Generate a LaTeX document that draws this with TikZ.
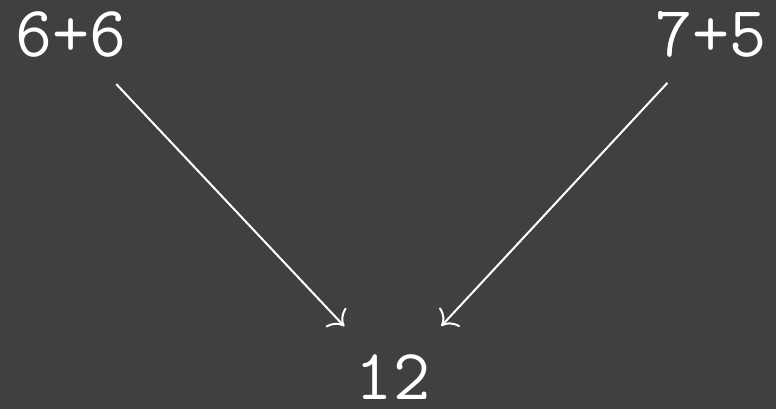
\documentclass[tikz,border=0pt]{standalone}
\usetikzlibrary{arrows.meta}
\definecolor{bgc}{RGB}{64,64,64}
\begin{document}
\begin{tikzpicture}[x=1pt,y=-1pt,
  lbl/.style={text=white,font=\ttfamily\fontsize{72}{84}\selectfont,inner sep=0pt},
  conn/.style={draw=white,line width=2pt,-{Computer Modern Rightarrow[length=13pt,width=28pt]}}]
\fill[bgc] (0,0) rectangle (776,409);
\useasboundingbox (0,0) rectangle (776,409);
\node[lbl,anchor=base] (a) at (71,57) {6+6};
\node[lbl,anchor=base] (b) at (711,57) {7+5};
\node[lbl,anchor=base] (c) at (393,399) {12};
\coordinate (ac) at (71,36);
\coordinate (bc) at (711,36);
\coordinate (cc) at (393,378);
\draw[conn,shorten <=66pt,shorten >=71pt] (ac) -- (cc);
\draw[conn,shorten <=64pt,shorten >=71pt] (bc) -- (cc);
\end{tikzpicture}
\end{document}
